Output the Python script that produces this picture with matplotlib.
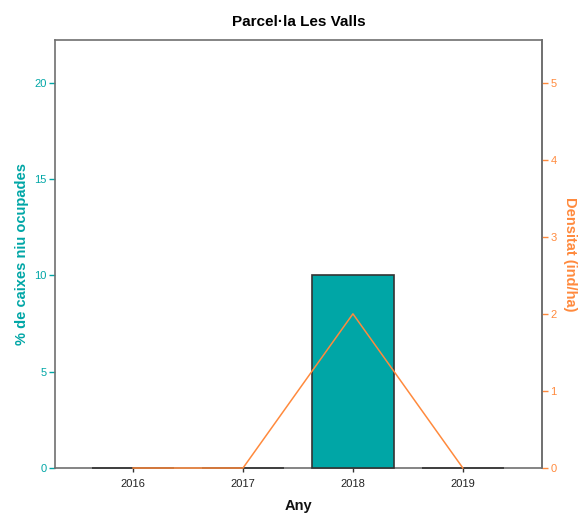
import matplotlib
matplotlib.use("Agg")
import matplotlib.pyplot as plt

plt.rcParams['font.family'] = ['Liberation Sans', 'DejaVu Sans']

years = ["2016", "2017", "2018", "2019"]
pct_occupied = [0, 0, 10, 0]
density = [0, 0, 2, 0]

teal = "#00A6A6"
orange = "#FF8A3D"
spine_c = "#707070"

fig = plt.figure(figsize=(5.86, 5.13), dpi=100)
ax = fig.add_axes([0.0939, 0.0877, 0.831, 0.834])
x = list(range(len(years)))
bars = ax.bar(x, pct_occupied, width=0.75, color=teal, edgecolor="#333333",
              linewidth=1.2, zorder=3)
for b in bars:
    b.set_clip_on(False)
ax.set_xlim(-0.71, 3.72)
ax.set_ylim(0, 22.2)
ax.set_yticks([0, 5, 10, 15, 20])
ax.set_xticks(x)
ax.set_xticklabels(years)
ax.tick_params(axis='x', length=3, width=1, colors="#333333", labelsize=8, labelcolor="#222222", pad=5)
ax.tick_params(axis='y', length=4, width=1, colors=teal, labelsize=8, labelcolor=teal, pad=2)
ax.set_ylabel("% de caixes niu ocupades", color=teal, fontsize=10.5, fontweight='bold', labelpad=4)
ax.set_xlabel("Any", fontsize=10.5, fontweight='bold', color="#111111", labelpad=7)
ax.set_title("Parcel·la Les Valls", fontsize=11, fontweight='bold', pad=10)

ax2 = ax.twinx()
ax2.plot(x, density, color=orange, linewidth=1.1, zorder=3, clip_on=False)
ax2.set_ylim(0, 5.55)
ax2.set_yticks([0, 1, 2, 3, 4, 5])
ax2.tick_params(axis='y', length=4, width=1, colors=orange, labelsize=8, labelcolor=orange, pad=2)
ax2.set_ylabel("Densitat (ind/ha)", color=orange, fontsize=10.5, fontweight='bold', rotation=270, labelpad=15)

for s in ax.spines.values():
    s.set_color(spine_c)
    s.set_linewidth(1.2)
    s.set_zorder(2)
for name, s in ax2.spines.items():
    s.set_color(spine_c)
    s.set_linewidth(1.2)
    if name != 'right':
        s.set_visible(False)

fig.savefig("out.png", dpi=100)
